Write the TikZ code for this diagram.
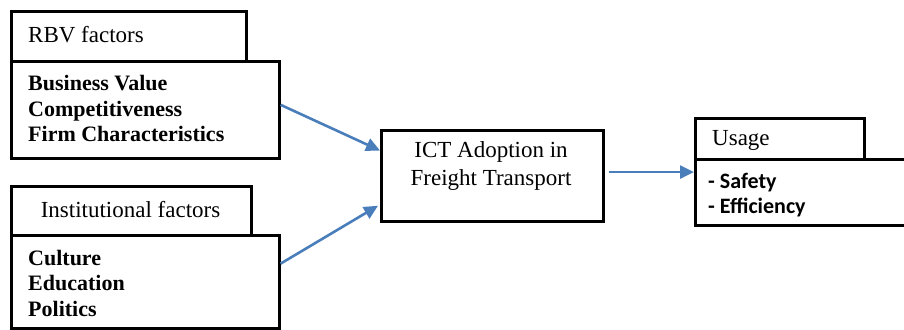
\documentclass[tikz,border=0pt]{standalone}
\usepackage{fontspec}
\setmainfont{Liberation Serif}
\newfontfamily\carl{Carlito}
\usetikzlibrary{arrows.meta,calc}
\definecolor{arrowblue}{RGB}{74,126,187}
\tikzset{
  box/.style={draw=black, line width=2.6pt, rectangle, anchor=north west, inner sep=0pt},
  hdr/.style={box},
  lbl/.style={font=\fontsize{23}{28}\selectfont, inner sep=0pt},
  bodytxt/.style={draw=none, anchor=west, inner sep=0pt, font=\fontsize{22}{25.5}\selectfont\bfseries, align=left},
  conn/.style={draw=arrowblue, line width=2.6pt, -{Triangle[length=14pt,width=13pt]}}
}
\begin{document}
\begin{tikzpicture}[x=1pt,y=-1pt]
\useasboundingbox (0,0) rectangle (904,329);
% RBV
\node[box, minimum width=268pt, minimum height=97pt] (rbvbody) at (10,60) {};
\node[bodytxt] (rbvtxt) at (28,108.5) {Business Value\\Competitiveness\\Firm Characteristics};
\node[hdr, minimum width=235pt, minimum height=50pt] (rbvhead) at (10,10) {};
\node[lbl, anchor=west] (rbvlabel) at (28,35) {RBV factors};
% Institutional
\node[box, minimum width=268pt, minimum height=93pt] (instbody) at (10,234) {};
\node[bodytxt] (insttxt) at (28,283) {Culture\\Education\\Politics};
\node[hdr, minimum width=240pt, minimum height=49pt] (insthead) at (10,185) {};
\node[lbl] (instlabel) at (130.5,210) {Institutional factors};
% ICT
\node[box, minimum width=222pt, minimum height=91pt] (ict) at (380,129) {};
\node[lbl, align=center, font=\fontsize{23}{28}\selectfont] (icttxt) at (491,166) {ICT Adoption in\\Freight Transport};
% Usage
\node[box, minimum width=220pt, minimum height=66pt] (usebody) at (694,158) {};
\node[bodytxt, font=\carl\fontsize{22}{25}\selectfont\bfseries] (usetxt) at (708,195.5) {- Safety\\- Efficiency};
\node[hdr, minimum width=169pt, minimum height=41pt] (usehead) at (694,117) {};
\node[lbl, anchor=west] (uselabel) at (712,140) {Usage};
% connectors
\coordinate (s1) at ($(rbvbody.north east)!0.45!(rbvbody.south east)$);
\coordinate (e1) at ($(ict.north west)!0.23!(ict.south west)$);
\coordinate (s2) at ($(instbody.north east)!0.31!(instbody.south east)$);
\coordinate (e2) at ($(ict.north west)!0.82!(ict.south west)$);
\coordinate (s3) at ($(ict.north east)!0.46!(ict.south east)+(4,0)$);
\draw[conn] (s1) -- (e1);
\draw[conn] (s2) -- ([xshift=-2pt]e2);
\draw[conn] (s3) -- (s3 -| usebody.west);
\end{tikzpicture}
\end{document}
